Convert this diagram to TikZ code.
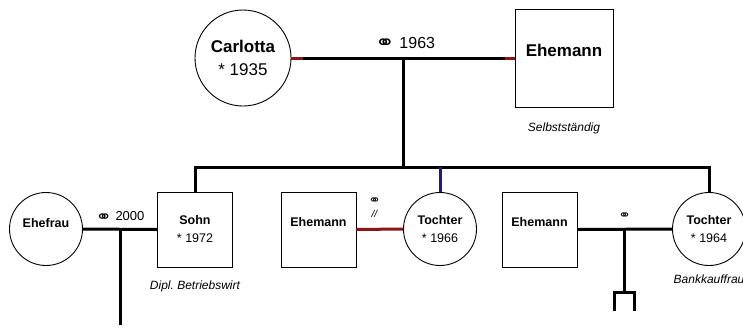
\documentclass[tikz,border=0pt]{standalone}
\usepackage{fontspec}
\setmainfont{Liberation Sans}
\newfontfamily\symfont{DejaVu Sans}
\usetikzlibrary{positioning, calc}

\definecolor{linienrot}{RGB}{140,22,22}
\definecolor{linienblau}{RGB}{30,30,120}
\newcommand{\verh}{\raisebox{-0.1em}{\scalebox{1.5}[1.25]{\symfont\bfseries ⚭}}}

\begin{document}
\begin{tikzpicture}[
    x=1pt, y=-1pt,
    person/.style={draw=black, line width=0.9pt, inner sep=0pt, align=center},
    frau/.style={person, circle, minimum size=73pt, font=\fontsize{12.5}{18}\selectfont},
    mann/.style={person, rectangle, minimum size=75pt, font=\fontsize{12.5}{18}\selectfont},
    linie/.style={line width=3pt},
    ehelabel/.style={inner sep=0pt, align=center, font=\fontsize{13}{15}\selectfont},
    beruf/.style={inner sep=0pt, font=\fontsize{12}{14}\selectfont\itshape}
]
\useasboundingbox (0,0) rectangle (743,335);

% Knoten
\node[person, circle, minimum size=96pt, font=\fontsize{17}{23}\selectfont] (carlotta) at (243,58) {\textbf{Carlotta}\\{*} 1935};
\node[person, rectangle, minimum size=98pt, font=\fontsize{17}{23}\selectfont] (ehemann) at (564,58) {\textbf{Ehemann}\\[-7pt]\mbox{}};
\node[frau] (ehefrau) at (46,229) {\textbf{Ehefrau}\\[-6pt]\mbox{}};
\node[mann] (sohn) at (195,229.5) {\textbf{Sohn}\\{*} 1972};
\node[mann] (ehemann1) at (318.5,229.5) {\textbf{Ehemann}\\[-3pt]\mbox{}};
\node[frau] (tochter1) at (440,229) {\textbf{Tochter}\\{*} 1966};
\node[mann] (ehemann2) at (539.5,229.5) {\textbf{Ehemann}\\[-3pt]\mbox{}};
\node[frau] (tochter2) at (709,229) {\textbf{Tochter}\\{*} 1964};

\node[beruf, below=15pt of ehemann] (beruf0) {Selbstständig};
\node[beruf, below=13pt of sohn] (beruf1) {Dipl.\ Betriebswirt};
\node[beruf, below=9pt of tochter2] (beruf2) {Bankkauffrau};

% Verbindungspunkte
\coordinate (m1) at ($(carlotta.east)!0.5!(ehemann.west)$);
\coordinate (g1) at (m1 |- 0,167);
\coordinate (m2) at ($(ehefrau.east)!0.5!(sohn.west)$);
\coordinate (k1) at (m2 |- 0,325);
\coordinate (m3) at ($(ehemann1.east)!0.5!(tochter1.west)$);
\coordinate (m4) at ($(ehemann2.east)!0.5!(tochter2.west)$);
\coordinate (k3) at ($(m4)+(0,63)$);

% Ehe Carlotta
\draw[linie] (carlotta.east) -- (ehemann.west);
\draw[linie, linienrot] (carlotta.east) -- ++(12,0);
\draw[linie, linienrot] (ehemann.west) -- ++(-10,0);
\node[ehelabel, font=\fontsize{16}{18}\selectfont, above=8pt of m1, xshift=2pt] (e1) {\verh\ 1963};

% Kinder
\draw[linie] (m1) -- (g1);
\draw[linie] (sohn.north) |- (g1) -| (tochter2.north);
\draw[linie, linienblau] (tochter1.north |- g1) -- (tochter1.north);

% Ehe Sohn
\draw[linie] (ehefrau.east) -- (sohn.west);
\draw[linie] (m2) -- (k1);
\node[ehelabel, above=7pt of m2] (e2) {\verh\ 2000};

% Ehe Tochter 1966
\draw[linie, linienrot] (ehemann1.east) -- (tochter1.west);
\node[ehelabel, font=\fontsize{10}{14}\selectfont, above=11pt of m3, xshift=-5pt] (e3) {\verh\\\textit{//}};

% Ehe Tochter 1964
\draw[linie] (ehemann2.east) -- (tochter2.west);
\draw[linie] (m4) -- (k3);
\draw[linie] ($(k3)+(-10,19)$) |- (k3) -| ($(k3)+(10,19)$);
\node[ehelabel, font=\fontsize{10}{12}\selectfont, above=10pt of m4] (e4) {\verh};

\end{tikzpicture}
\end{document}
